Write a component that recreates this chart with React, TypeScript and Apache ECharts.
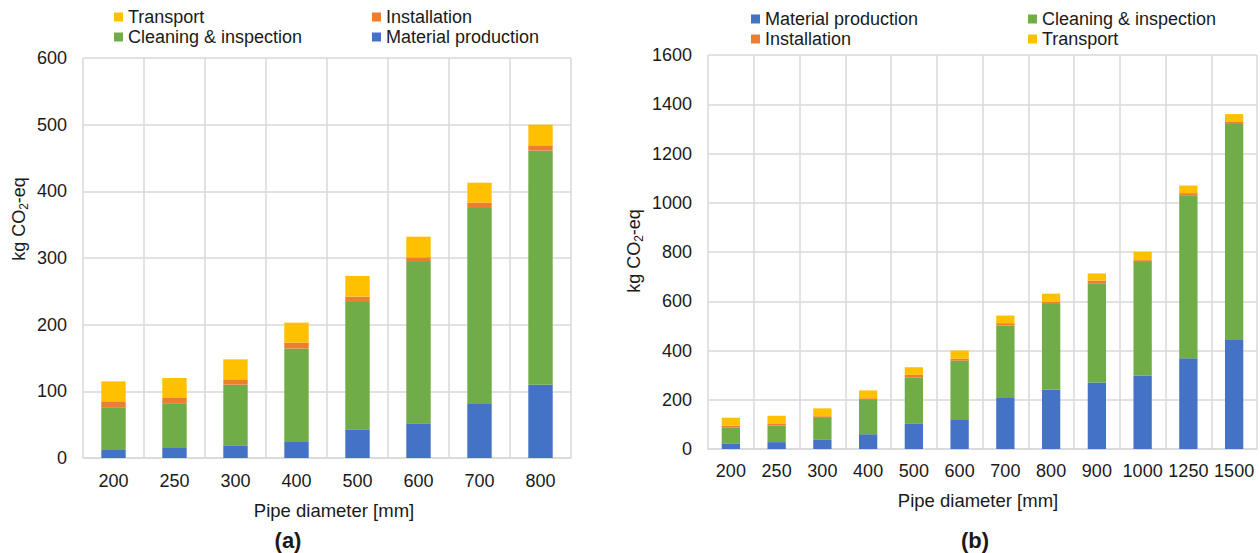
import React, { useEffect, useRef } from "react";
import * as echarts from "echarts";

// Pipe diameters [mm] for each panel
const diametersA = ["200", "250", "300", "400", "500", "600", "700", "800"];
const diametersB = ["200", "250", "300", "400", "500", "600", "700", "800", "900", "1000", "1250", "1500"];

// Panel (a): kg CO2-eq per life-cycle stage
const materialA = [12, 15, 19, 24, 43, 52, 81, 110];
const cleaningA = [64, 67, 91, 140, 191, 242, 294, 351];
const installA = [9, 8, 8, 9, 8, 7, 8, 8];
const transportA = [30, 30, 30, 30, 31, 31, 30, 31];

// Panel (b): kg CO2-eq per life-cycle stage
const materialB = [23, 28, 37, 60, 102, 118, 207, 241, 270, 298, 369, 443];
const cleaningB = [65, 67, 89, 139, 189, 241, 294, 348, 403, 461, 661, 877];
const installB = [7, 9, 7, 7, 10, 8, 10, 9, 11, 8, 9, 8];
const transportB = [32, 31, 32, 32, 31, 33, 31, 33, 29, 34, 31, 32];

const FONT = "'Liberation Sans', Arial, Helvetica, sans-serif";
const TEXT = "#1a1a1a";
const GRID_LINE = "#d9d9d9";

const COLORS: Record<string, string> = {
  "Material production": "#4472C4",
  "Cleaning & inspection": "#70AD47",
  Installation: "#ED7D31",
  Transport: "#FFC000",
};

function legendItem(name: string, left: number, top: number) {
  return {
    data: [name],
    left,
    top,
    padding: 0,
    icon: "rect",
    itemWidth: 9,
    itemHeight: 9,
    selectedMode: false,
    textStyle: { fontFamily: FONT, fontSize: 18, color: TEXT },
  };
}

function xAxisFor(gridIndex: number, data: string[], margin: number) {
  return {
    gridIndex,
    type: "category",
    data,
    axisLine: { show: true, lineStyle: { color: GRID_LINE, width: 1.5 } },
    axisTick: { show: false },
    axisLabel: { interval: 0, margin, fontFamily: FONT, fontSize: 18, color: TEXT },
    splitLine: { show: true, interval: 0, lineStyle: { color: GRID_LINE, width: 1.5 } },
  };
}

function yAxisFor(gridIndex: number, max: number, interval: number) {
  return {
    gridIndex,
    type: "value",
    min: 0,
    max,
    interval,
    axisLine: { show: false },
    axisTick: { show: false },
    axisLabel: {
      margin: 16,
      fontFamily: FONT,
      fontSize: 18,
      color: TEXT,
      formatter: (v: number) => String(v),
    },
    splitLine: { show: true, lineStyle: { color: GRID_LINE, width: 1.5 } },
  };
}

function barSeries(name: string, data: number[], axis: number, stack: string) {
  return {
    type: "bar",
    name,
    data,
    xAxisIndex: axis,
    yAxisIndex: axis,
    stack,
    barWidth: "40%",
    itemStyle: { color: COLORS[name] },
  };
}

function yTitle(x: number, y: number) {
  return {
    type: "text",
    x,
    y,
    rotation: Math.PI / 2,
    style: {
      text: "kg CO{sub|2}-eq",
      fontFamily: FONT,
      fontSize: 18,
      fill: TEXT,
      align: "center",
      verticalAlign: "middle",
      rich: {
        sub: { fontFamily: FONT, fontSize: 12, fill: TEXT, padding: [9, 0, 0, 0] },
      },
    },
  };
}

function plainText(text: string, x: number, y: number, bold = false, size = 18) {
  return {
    type: "text",
    x,
    y,
    style: {
      text,
      fontFamily: FONT,
      fontSize: size,
      fontWeight: bold ? "bold" : "normal",
      fill: TEXT,
      align: "center",
      verticalAlign: "middle",
    },
  };
}

export default function App() {
  const ref = useRef<HTMLDivElement>(null);

  useEffect(() => {
    if (!ref.current) return;
    const chart = echarts.init(ref.current, undefined, { renderer: "svg" });
    chart.setOption({
      animation: false,
      backgroundColor: "#ffffff",
      legend: [
        legendItem("Transport", 114, 8),
        legendItem("Installation", 372, 8),
        legendItem("Cleaning & inspection", 114, 28),
        legendItem("Material production", 372, 28),
        legendItem("Material production", 751, 10),
        legendItem("Cleaning & inspection", 1028, 10),
        legendItem("Installation", 751, 30),
        legendItem("Transport", 1028, 30),
      ],
      grid: [
        { left: 83, top: 58, width: 488, height: 400, containLabel: false },
        { left: 708, top: 55, width: 549, height: 394, containLabel: false },
      ],
      xAxis: [xAxisFor(0, diametersA, 14), xAxisFor(1, diametersB, 13)],
      yAxis: [yAxisFor(0, 600, 100), yAxisFor(1, 1600, 200)],
      series: [
        barSeries("Material production", materialA, 0, "a"),
        barSeries("Cleaning & inspection", cleaningA, 0, "a"),
        barSeries("Installation", installA, 0, "a"),
        barSeries("Transport", transportA, 0, "a"),
        barSeries("Material production", materialB, 1, "b"),
        barSeries("Cleaning & inspection", cleaningB, 1, "b"),
        barSeries("Installation", installB, 1, "b"),
        barSeries("Transport", transportB, 1, "b"),
      ],
      graphic: [
        yTitle(19, 219),
        yTitle(634, 251),
        plainText("Pipe diameter [mm]", 334, 510, false, 18.5),
        plainText("Pipe diameter [mm]", 978, 500, false, 18.5),
        plainText("(a)", 288, 540, true, 22),
        plainText("(b)", 975, 540, true, 22),
      ],
    });
    return () => chart.dispose();
  }, []);

  return (
    <div
      ref={ref}
      style={{ position: "fixed", left: 0, top: 0, width: 1260, height: 553, background: "#fff" }}
    />
  );
}
